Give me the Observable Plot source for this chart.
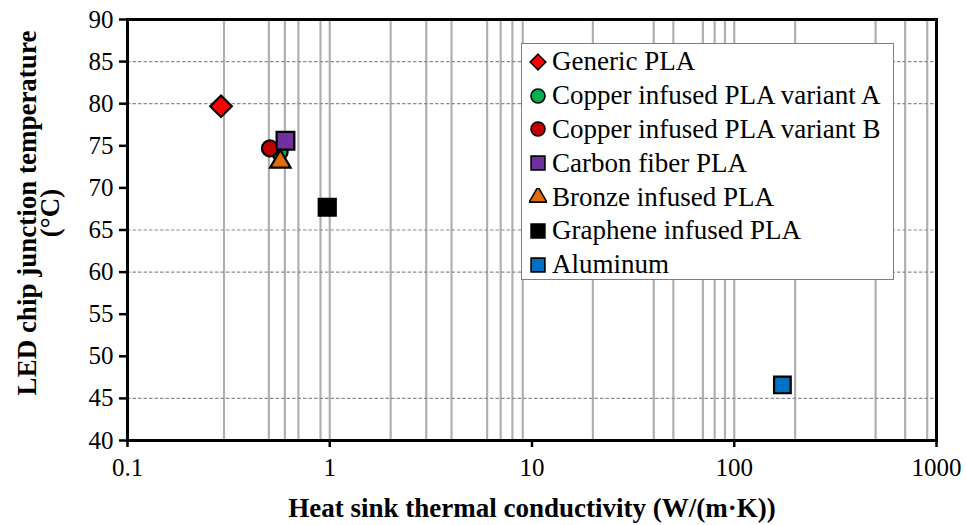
<!DOCTYPE html>
<html>
<head>
<meta charset="utf-8">
<script src="https://cdn.jsdelivr.net/npm/d3@7"></script>
<script src="https://cdn.jsdelivr.net/npm/@observablehq/plot@0.6"></script>
<style>
  html, body { margin: 0; padding: 0; background: white; }
  #wrap { position: relative; width: 966px; height: 525px; font-family: "Liberation Serif", "Times New Roman", serif; }
  #legend { position: absolute; left: 521px; top: 43px; width: 373px; height: 237px; background: white;
            border: 1px solid #7f7f7f; box-sizing: border-box; padding-top: 1px; }
  .row { display: flex; align-items: center; height: 33.8px; font-size: 27px; color: #000; white-space: nowrap; }
  .row svg { margin-left: 7px; margin-right: 5px; flex: none; }
</style>
</head>
<body>
<div id="wrap"></div>
<script>
// ---- data ----
const series = ["Generic PLA", "Copper infused PLA variant A", "Copper infused PLA variant B",
  "Carbon fiber PLA", "Bronze infused PLA", "Graphene infused PLA", "Aluminum"];
const conductivity = [0.29, 0.565, 0.506, 0.604, 0.57, 0.972, 173];
const temperature = [79.7, 74.25, 74.7, 75.6, 73.1, 67.7, 46.6];
const xTicks = [0.1, 1, 10, 100, 1000];
const yTicks = [40, 45, 50, 55, 60, 65, 70, 75, 80, 85, 90];
const xGrid = [0.3, 0.5, 0.6, 0.7, 0.9, 1, 2, 3, 4, 6, 7, 8, 9, 20, 40, 50, 70, 80, 90, 100, 200, 500, 700, 900];
const yGrid = [85, 80, 65, 60, 45];
const xTitle = "Heat sink thermal conductivity (W/(m·K))";
const yTitle = "LED chip junction temperature\n(°C)";

// ---- styles ----
const diamond = { draw(ctx, size) { const r = Math.sqrt(size / 2); ctx.moveTo(0, -r); ctx.lineTo(r, 0); ctx.lineTo(0, r); ctx.lineTo(-r, 0); ctx.closePath(); } };
const symbols = [diamond, d3.symbolCircle, d3.symbolCircle, d3.symbolSquare, d3.symbolTriangle, d3.symbolSquare, d3.symbolSquare];
const colors = ["#ff0000", "#00b050", "#c00000", "#7030a0", "#e36c0a", "#000000", "#0070c0"];
const radii = [8.6, 8, 8, 10, 7.6, 9.6, 9.4];
const legendRadii = [6.2, 7, 7, 7.8, 6.6, 7.8, 7.8];

const data = series.map((s, i) => ({ series: s, x: conductivity[i], y: temperature[i] }));

const font = '"Liberation Serif", "Times New Roman", serif';

const chart = Plot.plot({
  width: 966,
  height: 525,
  marginLeft: 127,
  marginRight: 30,
  marginTop: 19,
  marginBottom: 85,
  style: { fontFamily: font, fontSize: "25px", color: "#000", background: "white", overflow: "visible" },
  x: { type: "log", domain: [0.1, 1000] },
  y: { domain: [40, 90] },
  marks: [
    Plot.ruleX(xGrid, { stroke: "#b0b0b0", strokeWidth: 2.2 }),
    Plot.ruleY(yGrid, { stroke: "#8c8c8c", strokeWidth: 1.2, strokeDasharray: "3.5,2" }),
    Plot.frame({ stroke: "#000", strokeWidth: 3 }),
    Plot.axisX(xTicks, { tickSize: 7, tickPadding: 11, tickFormat: d => String(d), fontSize: 25, label: null, strokeWidth: 2.5 }),
    Plot.axisY(yTicks, { tickSize: 8, tickPadding: 6, fontSize: 25, label: null, strokeWidth: 2.5 }),
    ...data.map((d, i) => Plot.dot([d], { x: "x", y: "y", symbol: symbols[i], r: radii[i], fill: colors[i], stroke: "#000", strokeWidth: 2.2 })),
    Plot.text([xTitle], { text: d => d, frameAnchor: "bottom", lineAnchor: "middle", textAnchor: "middle", dy: 68, fontSize: 27, fontWeight: "bold" }),
    Plot.text([yTitle], { text: d => d, frameAnchor: "left", textAnchor: "middle", lineAnchor: "middle", rotate: -90, dx: -87, dy: -17, fontSize: 27, fontWeight: "bold", lineHeight: 0.85 })
  ]
});

const wrap = document.getElementById("wrap");
wrap.appendChild(chart);

// ---- legend ----
const legend = document.createElement("div");
legend.id = "legend";
series.forEach((s, i) => {
  const row = document.createElement("div");
  row.className = "row";
  const size = 18;
  const svg = d3.create("svg").attr("width", size).attr("height", size).attr("viewBox", `${-size / 2} ${-size / 2} ${size} ${size}`);
  svg.append("path")
    .attr("d", d3.symbol(symbols[i], Math.PI * legendRadii[i] * legendRadii[i])())
    .attr("fill", colors[i]).attr("stroke", "#000").attr("stroke-width", 1.6);
  row.appendChild(svg.node());
  const span = document.createElement("span");
  span.textContent = s;
  row.appendChild(span);
  legend.appendChild(row);
});
wrap.appendChild(legend);
</script>
</body>
</html>
